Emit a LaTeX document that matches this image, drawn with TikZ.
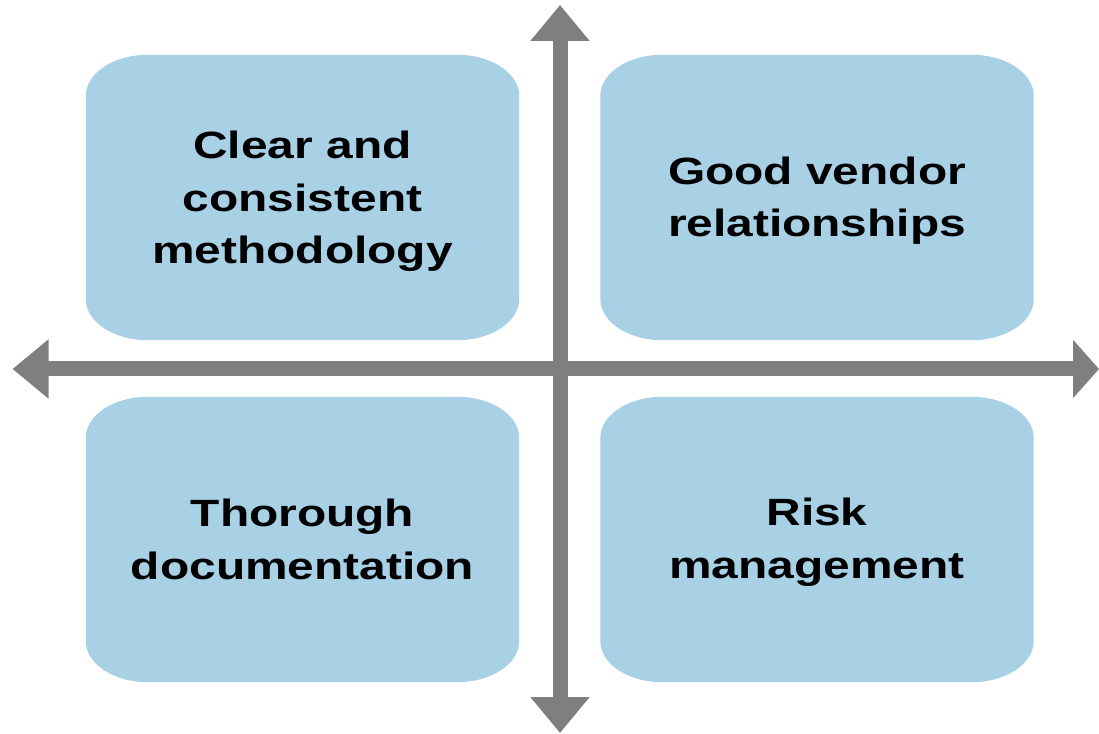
\documentclass[tikz,border=0pt]{standalone}
\usepackage{fontspec}
\newfontfamily\boxfont{Liberation Sans}[FakeStretch=1.26]
\usetikzlibrary{arrows.meta,backgrounds}
\definecolor{cellblue}{HTML}{A9D1E6}
\definecolor{axisgray}{HTML}{7F7F7F}
\begin{document}
\begin{tikzpicture}[x=1pt,y=1pt,
  cell/.style={minimum width=433pt,minimum height=285pt,inner sep=0pt,align=center,
    font=\boxfont\bfseries\fontsize{38}{52.5}\selectfont,text=black},
  cellfill/.style={fill=cellblue},
  axis/.style={draw=axisgray,line width=15pt},
  headA/.style={-{Triangle[length=36pt,width=57pt]}},
  headB/.style={-{Triangle[length=26pt,width=57pt]}}]
\useasboundingbox (0,0) rectangle (1099,733);
% nodes (boxes)
\node[cell] (tl) at (302.5,535.5) {};
\node[cell] (tr) at (817,535.5) {};
\node[cell] (bl) at (302.5,193.5) {};
\node[cell] (br) at (817,193.5) {};
% labels
\node[cell,minimum height=0pt] (tltext) at ([yshift=-4pt]tl.center) {Clear and\\consistent\\methodology};
\node[cell,minimum height=0pt] (trtext) at ([yshift=-3pt]tr.center) {Good vendor\\relationships};
\node[cell,minimum height=0pt] (bltext) at (bl.center) {Thorough\\documentation};
\node[cell,minimum height=0pt] (brtext) at ([yshift=-3pt]br.center) {Risk\\management};
% axes
\coordinate (top) at (560,728);
\coordinate (bot) at (560,0);
\coordinate (left) at (12.5,364);
\coordinate (right) at (1099,364);
\coordinate (c) at (560,364);
\begin{scope}[on background layer]
\foreach \n in {tl,tr,bl,br}{
  \fill[cellfill] ([xshift=62pt]\n.south west) -- ([xshift=-62pt]\n.south east)
    arc[start angle=-90,end angle=0,x radius=62pt,y radius=41pt]
    -- ([yshift=-41pt]\n.north east)
    arc[start angle=0,end angle=90,x radius=62pt,y radius=41pt]
    -- ([xshift=62pt]\n.north west)
    arc[start angle=90,end angle=180,x radius=62pt,y radius=41pt]
    -- ([yshift=41pt]\n.south west)
    arc[start angle=180,end angle=270,x radius=62pt,y radius=41pt]
    -- cycle;
}
\draw[axis,headA] (c) -- (top);
\draw[axis,headA] (c) -- (bot);
\draw[axis,headA] (c) -- (left);
\draw[axis,headB] (c) -- (right);
\end{scope}
\end{tikzpicture}
\end{document}
